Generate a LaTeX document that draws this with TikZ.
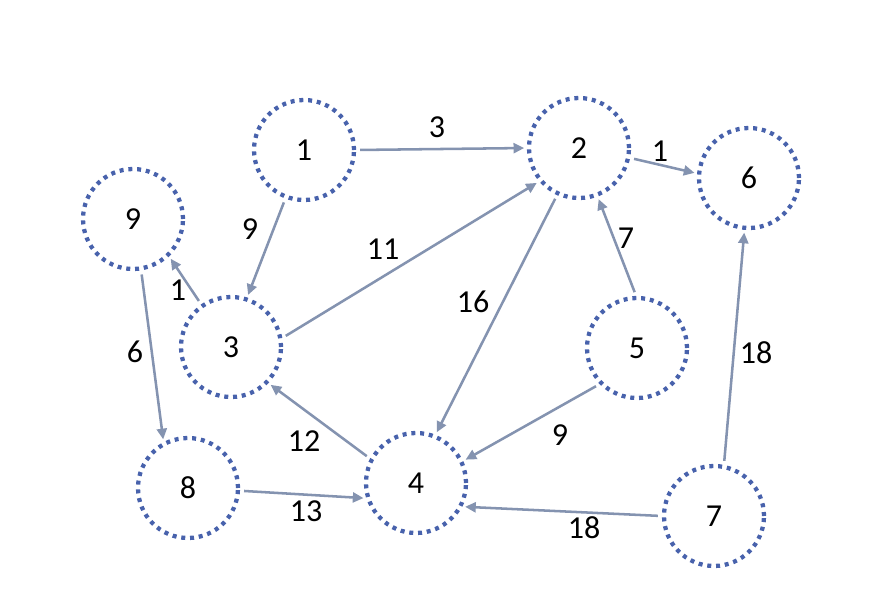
\documentclass[tikz,border=0pt]{standalone}
\usepackage{fontspec}
\setmainfont{Carlito}
\usetikzlibrary{arrows.meta}
\definecolor{ringBlue}{RGB}{72,98,172}
\definecolor{edgeGray}{RGB}{132,147,176}
\tikzset{
  vertex/.style={circle,draw=ringBlue,line width=3.2pt,dash pattern=on 3pt off 3.6pt,
    minimum size=75pt,inner sep=0pt,font=\fontsize{24}{28}\selectfont},
  edge/.style={draw=edgeGray,line width=1.9pt,-{Triangle[length=8pt,width=7.5pt]},shorten >=2pt,shorten <=3pt},
  weight/.style={font=\fontsize{24}{28}\selectfont,inner sep=1pt}
}
\begin{document}
\begin{tikzpicture}[x=0.75pt,y=-0.75pt]
\useasboundingbox (0,0) rectangle (878,611);
% vertices
\node[vertex] (n1) at (304,150) {1};
\node[vertex] (n2) at (579,148) {2};
\node[vertex] (n6) at (749,178) {6};
\node[vertex] (n9) at (133,219) {9};
\node[vertex] (n3) at (231,347) {3};
\node[vertex] (n5) at (637,348) {5};
\node[vertex] (n8) at (188,488) {8};
\node[vertex] (n4) at (416,483) {4};
\node[vertex] (n7) at (714,516) {7};
% weighted arcs
\draw[edge] (n1.0) -- (n2.180);
\draw[edge] (n1.249) -- (n3.72);
\draw[edge] (n3.125) -- (n9.-46);
\draw[edge] (n3.10) -- (n2.-140);
\draw[edge] (n2.-115) -- (n4.68);
\draw[edge] (n2.-11) -- (n6.175);
\draw[edge] (n5.91) -- (n2.-69);
\draw[edge] (n5.-136) -- (n4.25);
\draw[edge] (n9.-81) -- (n8.118);
\draw[edge] (n4.152) -- (n3.-44);
\draw[edge] (n8.-3) -- (n4.-163);
\draw[edge] (n7.180) -- (n4.-27);
\draw[edge] (n7.79) -- (n6.-95);
% weights
\node[weight] (w12) at (437,127) {3};
\node[weight] (w13) at (250,229) {9};
\node[weight] (w39) at (178,290) {1};
\node[weight] (w32) at (383,249) {11};
\node[weight] (w24) at (473,302) {16};
\node[weight] (w26) at (660,151) {1};
\node[weight] (w52) at (626,238) {7};
\node[weight] (w54) at (560,435) {9};
\node[weight] (w98) at (135,352) {6};
\node[weight] (w43) at (304,441) {12};
\node[weight] (w84) at (306,511) {13};
\node[weight] (w74) at (584,528) {18};
\node[weight] (w76) at (756,353) {18};
\end{tikzpicture}
\end{document}
